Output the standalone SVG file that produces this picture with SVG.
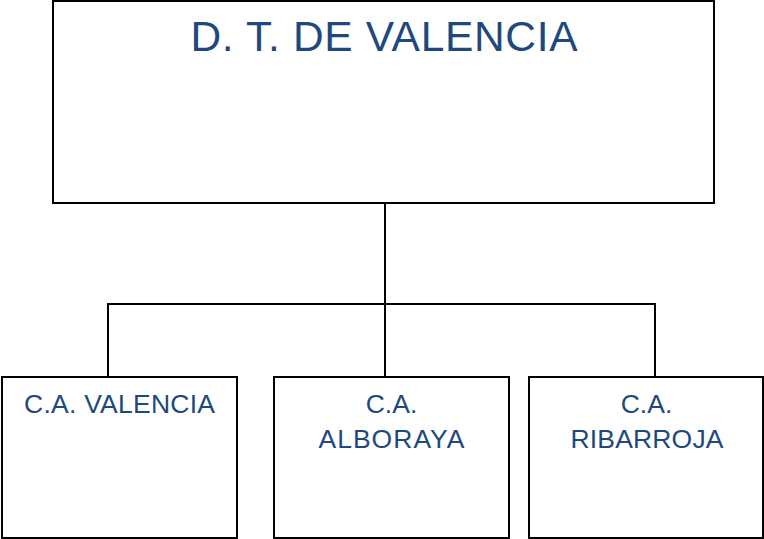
<svg xmlns="http://www.w3.org/2000/svg" width="764" height="539" viewBox="0 0 764 539">
<style>
.box{fill:#fff;stroke:#000;stroke-width:2}
.t{font-family:"Liberation Sans",Arial,sans-serif;fill:#1F497D;text-anchor:middle}
.c{fill:none;stroke:#000;stroke-width:2}
</style>
<rect width="764" height="539" fill="#fff"/>
<g id="connectors">
<path class="c" d="M385 203V377"/>
<path class="c" d="M108 304H655"/>
<path class="c" d="M108 303V377"/>
<path class="c" d="M655 303V377"/>
</g>
<g id="dt-valencia">
<rect class="box" x="53" y="1" width="661" height="202"/>
<text class="t" x="384" y="51" font-size="42.5" textLength="387">D. T. DE VALENCIA</text>
</g>
<g id="ca-valencia">
<rect class="box" x="2" y="377" width="235" height="161"/>
<text class="t" x="119.5" y="413" font-size="26.5" textLength="191">C.A. VALENCIA</text>
</g>
<g id="ca-alboraya">
<rect class="box" x="274" y="377" width="235" height="161"/>
<text class="t" x="391.5" y="413" font-size="26.5">C.A.</text>
<text class="t" x="391.5" y="448" font-size="26.5" textLength="146">ALBORAYA</text>
</g>
<g id="ca-ribarroja">
<rect class="box" x="529" y="377" width="234" height="161"/>
<text class="t" x="646.5" y="413" font-size="26.5">C.A.</text>
<text class="t" x="647" y="448" font-size="26.5" textLength="153">RIBARROJA</text>
</g>
</svg>
